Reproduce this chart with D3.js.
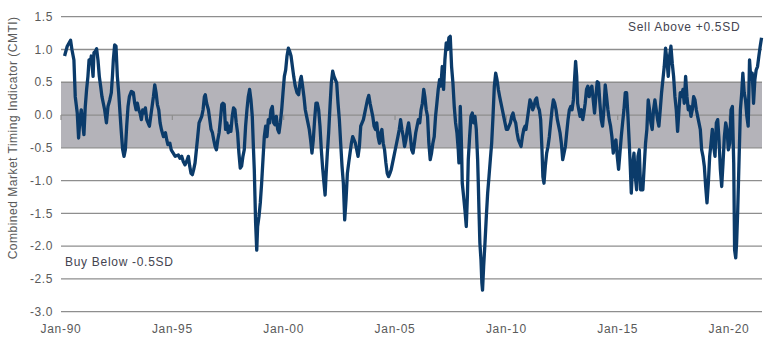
<!DOCTYPE html>
<html>
<head>
<meta charset="utf-8">
<script src="https://cdn.jsdelivr.net/npm/d3@7"></script>
<style>
  body { margin: 0; background: #ffffff; }
  text { font-family: "Liberation Sans", Arial, sans-serif; }
</style>
</head>
<body>
<svg id="chart" width="770" height="343"></svg>
<script>
// ---------- data ----------
const xTickYears = [1990, 1995, 2000, 2005, 2010, 2015, 2020];
const xTickLabels = ["Jan-90", "Jan-95", "Jan-00", "Jan-05", "Jan-10", "Jan-15", "Jan-20"];
const yTickValues = [1.5, 1.0, 0.5, 0.0, -0.5, -1.0, -1.5, -2.0, -2.5, -3.0];
const neutralBand = [-0.5, 0.5];
const sellLabel = "Sell Above +0.5SD";
const buyLabel = "Buy Below -0.5SD";
const yTitle = "Combined Market Timing Indicator (CMTI)";

const years = [
 1990.16,1990.28,1990.43,1990.49,1990.58,1990.64,1990.73,1990.79,1990.85,1990.91,1990.97,
 1991.03,1991.09,1991.15,1991.21,1991.26,1991.32,1991.36,1991.44,1991.48,1991.54,1991.60,1991.66,1991.72,1991.78,1991.84,1991.90,1991.96,
 1992.04,1992.11,1992.19,1992.26,1992.31,1992.35,1992.41,1992.47,1992.53,1992.59,1992.65,1992.71,1992.77,1992.83,1992.89,1992.95,
 1993.01,1993.07,1993.16,1993.25,1993.31,1993.37,1993.43,1993.49,1993.55,1993.61,1993.67,1993.73,1993.79,1993.85,1993.91,1993.97,
 1994.03,1994.09,1994.15,1994.21,1994.27,1994.33,1994.39,1994.45,1994.51,1994.60,1994.69,1994.75,1994.80,1994.89,1994.95,
 1995.04,1995.13,1995.27,1995.34,1995.42,1995.49,1995.57,1995.64,1995.72,1995.78,1995.84,1995.90,1995.96,
 1996.02,1996.08,1996.14,1996.20,1996.26,1996.32,1996.38,1996.44,1996.48,1996.54,1996.62,1996.68,1996.74,1996.80,1996.86,1996.92,1996.98,
 1997.04,1997.10,1997.16,1997.22,1997.27,1997.33,1997.39,1997.45,1997.51,1997.57,1997.63,1997.69,1997.75,1997.81,1997.87,1997.93,1997.99,
 1998.05,1998.11,1998.17,1998.23,1998.29,1998.35,1998.41,1998.47,1998.53,1998.59,1998.65,1998.68,1998.71,1998.74,1998.79,1998.83,1998.89,1998.95,
 1999.01,1999.07,1999.13,1999.19,1999.25,1999.31,1999.37,1999.43,1999.49,1999.55,1999.61,1999.67,1999.73,1999.79,1999.85,1999.91,1999.97,
 2000.03,2000.09,2000.15,2000.21,2000.27,2000.33,2000.45,2000.52,2000.60,2000.67,2000.75,2000.79,2000.85,2000.91,2000.97,
 2001.03,2001.09,2001.15,2001.21,2001.27,2001.33,2001.39,2001.45,2001.51,2001.57,2001.63,2001.69,2001.75,2001.81,2001.86,2001.90,2001.96,
 2002.02,2002.08,2002.14,2002.20,2002.26,2002.32,2002.38,2002.44,2002.50,2002.56,2002.62,2002.68,2002.74,2002.80,2002.86,2002.92,2002.98,
 2003.04,2003.10,2003.16,2003.22,2003.28,2003.34,2003.40,2003.46,2003.52,2003.58,2003.64,2003.70,2003.76,2003.82,2003.88,2003.94,
 2004.00,2004.06,2004.12,2004.18,2004.24,2004.30,2004.36,2004.41,2004.47,2004.53,2004.59,2004.65,2004.71,2004.77,2004.83,2004.89,2004.95,
 2005.01,2005.07,2005.13,2005.19,2005.25,2005.31,2005.37,2005.43,2005.49,2005.55,2005.61,2005.69,2005.75,2005.81,2005.87,2005.93,2005.99,
 2006.05,2006.11,2006.17,2006.23,2006.29,2006.34,2006.40,2006.46,2006.52,2006.58,2006.64,2006.70,2006.76,2006.82,2006.88,2006.94,
 2007.00,2007.06,2007.12,2007.18,2007.24,2007.30,2007.36,2007.42,2007.48,2007.54,2007.60,2007.66,2007.72,2007.78,2007.84,2007.87,2007.90,2007.93,2007.96,2007.99,
 2008.02,2008.08,2008.14,2008.20,2008.25,2008.29,2008.35,2008.41,2008.47,2008.53,2008.59,2008.65,2008.71,2008.74,2008.77,2008.81,2008.86,2008.90,2008.93,2008.98,
 2009.04,2009.10,2009.16,2009.22,2009.28,2009.34,2009.40,2009.46,2009.52,2009.58,2009.64,2009.70,2009.76,2009.82,2009.88,2009.94,
 2010.00,2010.06,2010.12,2010.18,2010.24,2010.30,2010.36,2010.42,2010.48,2010.54,2010.60,2010.66,2010.72,2010.78,2010.84,2010.88,2010.94,
 2011.00,2011.06,2011.12,2011.18,2011.24,2011.30,2011.36,2011.42,2011.48,2011.54,2011.60,2011.64,2011.69,2011.75,2011.81,2011.87,2011.93,2011.99,
 2012.05,2012.11,2012.17,2012.23,2012.29,2012.35,2012.41,2012.47,2012.53,2012.59,2012.65,2012.71,2012.77,2012.83,2012.89,2012.95,
 2013.01,2013.07,2013.11,2013.16,2013.20,2013.25,2013.31,2013.37,2013.43,2013.48,2013.54,2013.60,2013.66,2013.72,2013.78,2013.84,2013.90,2013.96,
 2014.02,2014.08,2014.14,2014.20,2014.26,2014.32,2014.38,2014.44,2014.50,2014.56,2014.62,2014.68,2014.74,2014.80,2014.86,2014.92,2014.98,
 2015.04,2015.10,2015.16,2015.22,2015.28,2015.34,2015.40,2015.46,2015.52,2015.57,2015.61,2015.67,2015.73,2015.79,2015.85,2015.91,2015.97,
 2016.03,2016.09,2016.13,2016.19,2016.25,2016.31,2016.37,2016.43,2016.49,2016.55,2016.61,2016.67,2016.73,2016.79,2016.85,2016.91,2016.97,
 2017.03,2017.09,2017.15,2017.21,2017.27,2017.33,2017.39,2017.45,2017.51,2017.57,2017.63,2017.69,2017.75,2017.81,2017.87,2017.93,2017.99,
 2018.05,2018.11,2018.17,2018.23,2018.29,2018.35,2018.41,2018.47,2018.53,2018.59,2018.65,2018.71,2018.77,2018.83,2018.89,2018.95,
 2019.01,2019.07,2019.13,2019.19,2019.25,2019.31,2019.37,2019.43,2019.49,2019.55,2019.61,2019.67,2019.73,2019.79,2019.85,2019.91,2019.97,
 2020.03,2020.09,2020.15,2020.21,2020.25,2020.30,2020.34,2020.39,2020.45,2020.51,2020.57,2020.62,2020.68,2020.74,2020.80,2020.86,2020.92,2020.98,
 2021.04,2021.10,2021.16,2021.22,2021.28,2021.34,2021.40,2021.46
];

const values = [
 0.90,1.05,1.14,1.00,0.84,0.28,0.03,-0.35,-0.07,0.08,-0.12,
 -0.30,0.13,0.39,0.59,0.84,0.79,0.90,0.59,0.95,0.97,1.01,0.84,0.59,0.44,0.28,0.18,0.08,
 -0.12,0.13,0.23,0.34,0.59,0.84,1.07,1.05,0.59,0.34,0.03,-0.27,-0.53,-0.63,-0.53,-0.17,
 0.13,0.28,0.36,0.34,0.18,0.08,0.18,0.08,0.03,-0.07,0.08,0.03,0.11,-0.07,-0.12,-0.17,
 -0.02,0.13,0.28,0.46,0.34,0.16,0.08,-0.12,-0.22,-0.33,-0.27,-0.38,-0.45,-0.43,-0.53,
 -0.58,-0.63,-0.61,-0.66,-0.63,-0.71,-0.76,-0.71,-0.63,-0.78,-0.89,-0.91,-0.83,
 -0.73,-0.53,-0.33,-0.12,-0.07,-0.02,0.08,0.28,0.31,0.18,0.08,-0.07,-0.22,-0.27,-0.38,-0.48,-0.53,
 -0.38,-0.27,-0.07,0.16,0.18,0.16,-0.22,-0.12,-0.27,-0.17,-0.25,-0.02,0.11,0.08,-0.12,-0.27,-0.58,
 -0.81,-0.78,-0.63,-0.53,-0.17,0.08,0.28,0.39,0.23,-0.02,-0.58,-0.83,-1.24,-1.65,-2.06,-1.70,-1.55,-1.34,
 -1.04,-0.68,-0.33,-0.17,-0.33,-0.07,-0.12,0.08,0.13,-0.12,-0.15,-0.02,-0.22,-0.27,-0.12,0.08,0.34,
 0.59,0.69,0.90,1.02,0.97,0.90,0.59,0.44,0.34,0.31,0.54,0.59,0.44,0.28,0.08,
 -0.02,-0.12,-0.22,-0.38,-0.58,-0.38,-0.07,0.18,0.18,0.08,-0.17,-0.53,-0.81,-1.04,-1.22,-0.94,-0.58,
 -0.27,0.13,0.49,0.67,0.59,0.54,0.49,0.18,-0.07,-0.43,-0.78,-1.04,-1.60,-1.29,-0.89,-0.73,-0.58,
 -0.43,-0.33,-0.38,-0.43,-0.53,-0.63,-0.48,-0.17,-0.12,-0.07,0.03,0.13,0.23,0.30,0.18,0.08,
 -0.02,-0.17,-0.22,-0.12,-0.33,-0.43,-0.27,-0.22,-0.43,-0.53,-0.73,-0.89,-0.94,-0.89,-0.83,-0.73,-0.63,
 -0.53,-0.43,-0.33,-0.22,-0.07,-0.22,-0.33,-0.48,-0.38,-0.22,-0.12,-0.33,-0.53,-0.58,-0.43,-0.27,-0.17,
 -0.07,-0.12,0.08,0.18,0.39,0.28,0.08,-0.02,-0.43,-0.68,-0.58,-0.43,-0.33,-0.02,0.18,0.39,
 0.54,0.44,0.74,0.39,0.84,1.10,1.00,1.18,1.20,0.74,0.49,0.13,-0.12,-0.27,-0.53,-0.73,-0.53,0.13,-0.17,-0.53,
 -1.04,-1.24,-1.45,-1.70,-1.24,-0.68,-0.33,-0.02,0.03,-0.12,-0.02,-0.22,-0.68,-1.04,-1.45,-1.95,-2.21,-2.56,-2.67,-2.31,
 -1.95,-1.55,-1.19,-0.94,-0.68,-0.43,-0.02,0.44,0.64,0.54,0.39,0.28,0.18,0.08,-0.02,-0.12,
 -0.22,-0.22,-0.17,-0.12,-0.02,0.03,-0.07,-0.12,-0.27,-0.38,-0.43,-0.48,-0.33,-0.22,-0.17,-0.22,-0.07,
 0.08,0.23,0.18,0.08,0.13,0.23,0.26,0.13,0.08,-0.07,-0.53,-0.94,-1.04,-0.78,-0.58,-0.48,-0.33,-0.12,
 0.08,0.23,0.18,0.08,-0.07,-0.17,-0.27,-0.43,-0.68,-0.58,-0.48,-0.27,-0.07,0.08,0.13,0.08,
 0.23,0.59,0.82,0.59,0.18,0.08,-0.02,0.08,-0.07,0.03,0.18,0.39,0.44,0.28,0.39,0.44,0.23,0.03,
 0.28,0.51,0.49,0.18,-0.07,-0.17,0.08,0.46,0.28,0.08,-0.07,-0.17,-0.33,-0.58,-0.43,-0.38,-0.63,
 -0.83,-0.58,-0.33,-0.12,0.08,0.34,0.34,-0.02,-0.43,-0.83,-1.19,-0.78,-0.58,-0.94,-1.14,-0.63,-0.53,
 -1.14,-1.04,-1.14,-0.78,-0.43,-0.22,0.23,0.08,-0.12,-0.22,0.08,0.23,0.08,-0.07,-0.17,0.08,0.34,
 0.54,0.74,1.02,0.84,0.59,0.90,1.05,0.79,0.59,0.28,0.08,-0.25,0.08,0.34,0.28,0.39,0.18,
 0.59,0.28,0.08,0.13,-0.02,0.08,0.28,0.23,0.08,-0.02,-0.12,-0.22,-0.53,-0.63,-0.78,-1.09,
 -1.34,-1.04,-0.63,-0.43,-0.22,-0.48,-0.63,-0.12,-0.07,-0.38,-0.83,-1.09,-0.73,-0.33,-0.12,-0.22,-0.53,
 -0.43,0.08,0.13,-0.73,-2.06,-2.18,-1.95,-1.45,-0.68,0.08,0.34,0.64,0.34,0.23,-0.02,-0.17,0.84,0.54,
 0.64,0.18,0.54,0.69,0.74,0.90,1.05,1.18
];

// ---------- layout ----------
const svg = d3.select("#chart");
const plotLeft = 61, plotRight = 762, plotTop = 16.7, plotBottom = 311.7;
const xDomain = [1990, 2021.48];
const fontSize = 12;

const x = d3.scaleLinear().domain(xDomain).range([plotLeft, plotRight]);
const y = d3.scaleLinear().domain([-3, 1.5]).range([plotBottom, plotTop]);

// neutral band
svg.append("rect")
  .attr("x", x(xDomain[0])).attr("width", x(xDomain[1]) - x(xDomain[0]))
  .attr("y", y(neutralBand[1])).attr("height", y(neutralBand[0]) - y(neutralBand[1]))
  .attr("fill", "#b4b3b9");

// gridlines
svg.append("g").selectAll("line").data(yTickValues).join("line")
  .attr("x1", plotLeft).attr("x2", plotRight)
  .attr("y1", d => y(d)).attr("y2", d => y(d))
  .attr("stroke", "#8e8e8e").attr("stroke-width", 1.3);

// small ticks on the zero line
svg.append("g").selectAll("line").data(xTickYears).join("line")
  .attr("x1", d => x(d)).attr("x2", d => x(d))
  .attr("y1", y(0)).attr("y2", y(0) + 5)
  .attr("stroke", "#8e8e8e").attr("stroke-width", 1.2);

// y tick labels
svg.append("g").selectAll("text").data(yTickValues).join("text")
  .attr("x", 53).attr("y", d => y(d) + 4.2)
  .attr("text-anchor", "end")
  .attr("font-size", fontSize).attr("letter-spacing", 0.6).attr("fill", "#5a5a5a")
  .text(d => d3.format(".1f")(d).replace("\u2212", "-"));

// x tick labels
svg.append("g").selectAll("text").data(xTickYears).join("text")
  .attr("x", d => x(d)).attr("y", 333)
  .attr("text-anchor", "middle")
  .attr("font-size", fontSize).attr("letter-spacing", 0.7).attr("fill", "#5a5a5a")
  .text((d, i) => xTickLabels[i]);

// y title
svg.append("text")
  .attr("transform", `translate(17,${(plotTop + 257) / 2 + 1}) rotate(-90)`)
  .attr("text-anchor", "middle")
  .attr("font-size", fontSize).attr("letter-spacing", 0.5).attr("fill", "#5a5a5a")
  .text(yTitle);

// annotations
svg.append("text").attr("x", 628).attr("y", 31)
  .attr("font-size", fontSize).attr("letter-spacing", 0.7).attr("fill", "#444450").text(sellLabel);
svg.append("text").attr("x", 65).attr("y", 265.5)
  .attr("font-size", fontSize).attr("letter-spacing", 0.7).attr("fill", "#444450").text(buyLabel);

// series line
const pts = years.map((yr, i) => [yr, values[i]]);
svg.append("path")
  .datum(pts)
  .attr("fill", "none")
  .attr("stroke", "#0b3b6a")
  .attr("stroke-width", 3.3)
  .attr("stroke-linejoin", "round")
  .attr("d", d3.line().x(d => x(d[0])).y(d => y(d[1])));
</script>
</body>
</html>
